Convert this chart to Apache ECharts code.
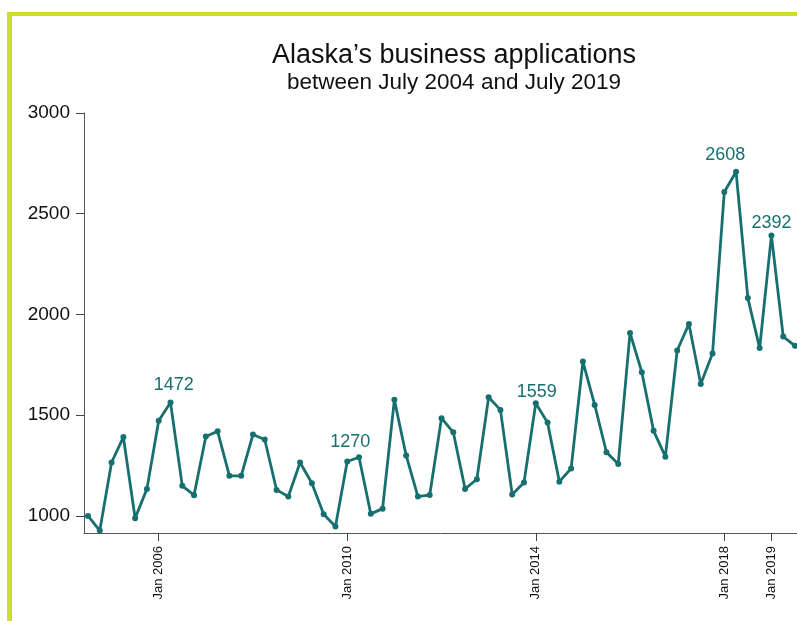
<!DOCTYPE html>
<html>
<head>
<meta charset="utf-8">
<script src="https://cdn.jsdelivr.net/npm/echarts@6/dist/echarts.min.js"></script>
<style>
  html, body { margin: 0; padding: 0; background: #fff; }
  #frame {
    position: absolute;
    left: 7px;
    top: 12px;
    width: 800px;
    height: 620px;
    border-left: 5px solid #cdde2c;
    border-top: 4px solid #cdde2c;
  }
  #chart { position: absolute; left: 0; top: 0; width: 797px; height: 621px; }
</style>
</head>
<body>
<div id="frame"></div>
<div id="chart"></div>
<script>
// Quarterly points, July 2004 .. July 2019
const quarters = [
  'Jul 2004', 'Oct 2004',
  'Jan 2005', 'Apr 2005', 'Jul 2005', 'Oct 2005',
  'Jan 2006', 'Apr 2006', 'Jul 2006', 'Oct 2006',
  'Jan 2007', 'Apr 2007', 'Jul 2007', 'Oct 2007',
  'Jan 2008', 'Apr 2008', 'Jul 2008', 'Oct 2008',
  'Jan 2009', 'Apr 2009', 'Jul 2009', 'Oct 2009',
  'Jan 2010', 'Apr 2010', 'Jul 2010', 'Oct 2010',
  'Jan 2011', 'Apr 2011', 'Jul 2011', 'Oct 2011',
  'Jan 2012', 'Apr 2012', 'Jul 2012', 'Oct 2012',
  'Jan 2013', 'Apr 2013', 'Jul 2013', 'Oct 2013',
  'Jan 2014', 'Apr 2014', 'Jul 2014', 'Oct 2014',
  'Jan 2015', 'Apr 2015', 'Jul 2015', 'Oct 2015',
  'Jan 2016', 'Apr 2016', 'Jul 2016', 'Oct 2016',
  'Jan 2017', 'Apr 2017', 'Jul 2017', 'Oct 2017',
  'Jan 2018', 'Apr 2018', 'Jul 2018', 'Oct 2018',
  'Jan 2019', 'Apr 2019', 'Jul 2019'
]

const applications = [
  1000, 927, 1265, 1391, 988, 1134, 1472, 1563, 1149, 1103,
  1394, 1420, 1199, 1199, 1404, 1379, 1129, 1096, 1265, 1162,
  1008, 947, 1270, 1291, 1010, 1036, 1576, 1300, 1096, 1104,
  1485, 1415, 1134, 1182, 1589, 1526, 1106, 1166, 1559, 1463,
  1170, 1235, 1766, 1551, 1316, 1258, 1908, 1713, 1422, 1294,
  1821, 1953, 1655, 1806, 2608, 2708, 2081, 1833, 2392, 1890,
  1844
]

// x ticks shown (indexes into quarters)
const xTicks = [6, 22, 38, 54, 58]
const yTicks = [1000, 1500, 2000, 2500, 3000]

// annotated points and where their text sits relative to the marker
const annotated = [6, 22, 38, 54, 58]
const annotationOffsets = [[15, -36], [3, -19], [1, -11], [1, -37], [0, -12]]

const teal = '#17706f'
const font = 'Liberation Sans, Arial, sans-serif'

const seriesData = applications.map((v, i) => {
  const k = annotated.indexOf(i)
  if (k < 0) return [i, v]
  return {
    value: [i, v],
    label: {
      show: true,
      position: 'inside',
      formatter: String(v),
      offset: annotationOffsets[k],
      color: teal,
      fontSize: 18,
      fontFamily: font
    }
  }
})

const chart = echarts.init(document.getElementById('chart'))

chart.setOption({
  animation: false,
  title: {
    text: 'Alaska’s business applications',
    subtext: 'between July 2004 and July 2019',
    left: 449,
    top: 37,
    textAlign: 'center',
    itemGap: 2,
    textStyle: { fontSize: 27, fontWeight: 'normal', color: '#111', fontFamily: font },
    subtextStyle: { fontSize: 22.5, color: '#111', fontFamily: font }
  },
  grid: { left: 84, right: 0, top: 113, bottom: 88 },
  xAxis: {
    type: 'value',
    min: -0.34,
    max: 60.17,
    splitLine: { show: false },
    axisLine: { onZero: false, lineStyle: { color: '#555', width: 1 } },
    axisTick: { show: true, length: 8, customValues: xTicks, lineStyle: { color: '#444' } },
    axisLabel: {
      customValues: xTicks,
      rotate: 90,
      margin: 13,
      fontSize: 13,
      color: '#111',
      fontFamily: font,
      formatter: v => quarters[Math.round(v)]
    }
  },
  yAxis: {
    type: 'value',
    min: 915,
    max: 3000,
    splitLine: { show: false },
    axisLine: { show: true, onZero: false, lineStyle: { color: '#555', width: 1 } },
    axisTick: { show: true, length: 8, customValues: yTicks, lineStyle: { color: '#444' } },
    axisLabel: {
      customValues: yTicks,
      margin: 14,
      fontSize: 19,
      color: '#111',
      fontFamily: font,
      formatter: v => String(v)
    }
  },
  series: [
    {
      type: 'line',
      data: seriesData,
      symbol: 'circle',
      symbolSize: 6,
      showAllSymbol: true,
      lineStyle: { color: teal, width: 2.8 },
      itemStyle: { color: teal }
    }
  ]
})
</script>
</body>
</html>
